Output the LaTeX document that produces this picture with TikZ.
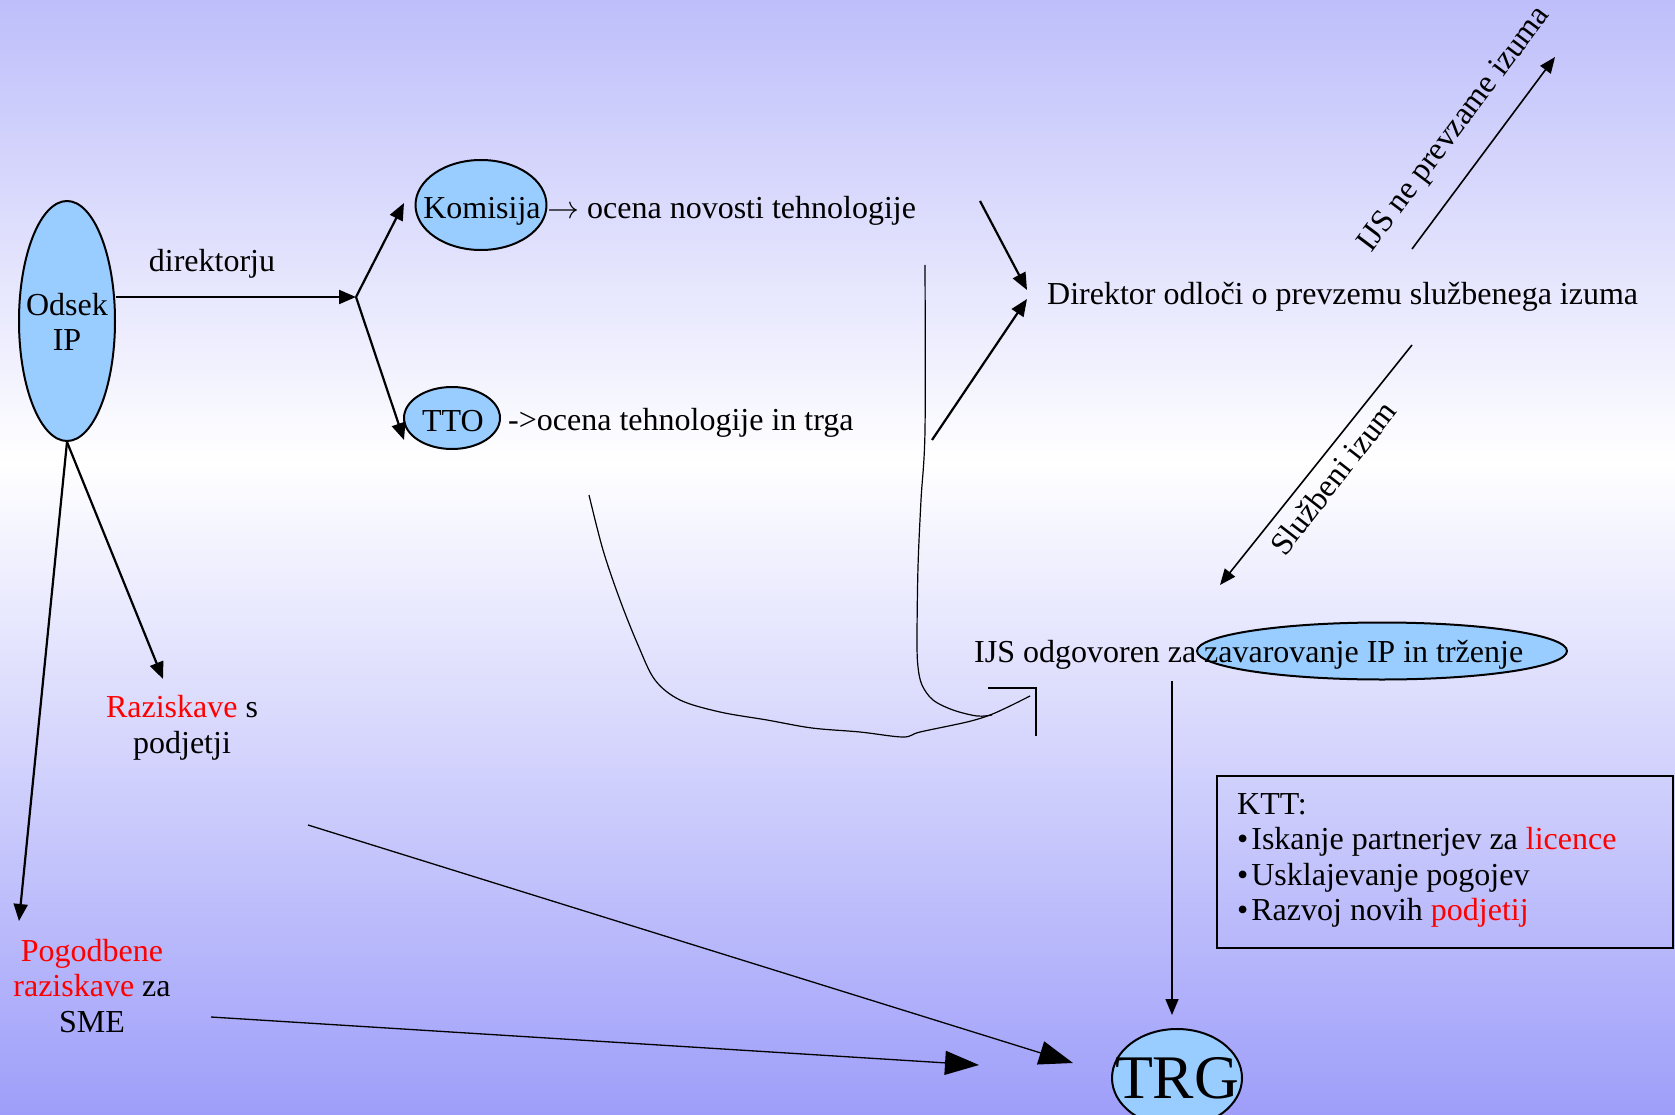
\RequirePackage{fix-cm}
\documentclass[tikz,border=0pt]{standalone}
\usepackage{fontspec}
\setmainfont{Liberation Serif}
\usetikzlibrary{shapes.geometric,arrows.meta}
\definecolor{bgtop}{RGB}{190,190,251}
\definecolor{bgbot}{RGB}{158,158,250}
\definecolor{ellfill}{RGB}{153,204,255}
\begin{document}
\begin{tikzpicture}[x=1pt,y=-1pt,
  ell/.style={ellipse, draw=black, line width=2pt, fill=ellfill, inner sep=0pt},
  txt/.style={font=\fontsize{32}{35.5}\selectfont, inner sep=0pt, align=center},
  arr/.style={line width=2.2pt, -{Triangle[length=17pt,width=14pt]}},
  thinarr/.style={line width=1.6pt, -{Triangle[length=16pt,width=13pt]}},
  thinline/.style={line width=1.2pt},
  bigarr/.style={line width=1.3pt, -{Triangle[length=34pt,width=24pt]}}]
\useasboundingbox (0,0) rectangle (1675,1115);
\shade[top color=bgtop, bottom color=white] (0,0) rectangle (1675,463);
\shade[top color=white, bottom color=bgbot] (0,462) rectangle (1675,1115);

% ellipses
\node[ell, minimum width=96pt, minimum height=240pt] (odsek) at (67,321) {};
\node[txt] (odsekt) at (67,322) {Odsek\\IP};
\node[ell, minimum width=131pt, minimum height=90pt] (kom) at (481,205) {};
\node[txt] (komt) at (482,211) {Komisija};
\node[ell, minimum width=96pt, minimum height=62pt] (tto) at (452,418) {};
\node[txt] (ttot) at (453,421) {TTO};
\node[ell, minimum width=370pt, minimum height=57pt] (zav) at (1382,651) {};
\node[ell, minimum width=130pt, minimum height=98pt] (trg) at (1177,1078) {};
\node[inner sep=0pt, font=\fontsize{62}{62}\selectfont] (trgt) at (trg.center) {TRG};

% texts
\node[txt] (dir) at (212,264) {direktorju};
\node[txt, anchor=base west] (ocn) at (547,219) {$\rightarrow$ ocena novosti tehnologije};
\node[txt, anchor=west] (oct) at (508,423) {->ocena tehnologije in trga};
\node[txt, anchor=base west] (direktor) at (1047,305) {Direktor odloči o prevzemu službenega izuma};
\node[txt, rotate=53] (nepre) at (1455,130) {IJS ne prevzame izuma};
\node[txt, rotate=52] (sluz) at (1333,478) {Službeni izum};
\node[txt, anchor=base west] (ijs) at (974,662) {IJS odgovoren za};
\node[txt, anchor=base west] (zavt) at (1204,662) {zavarovanje IP in trženje};
\node[txt] (raz) at (182,728) {{\color{red}Raziskave} s\\podjetji};
\node[txt] (pog) at (92,986) {{\color{red}Pogodbene}\\{\color{red}raziskave} za\\SME};

% KTT box
\node[draw=black, line width=2pt, minimum width=456pt, minimum height=172pt, inner sep=0pt] (ktt) at (1445,862) {};
\node[txt, anchor=base west] (k1) at (1237,814) {KTT:};
\node[txt, anchor=base west] (k2) at (1237,849.5) {•\kern3pt Iskanje partnerjev za {\color{red}licence}};
\node[txt, anchor=base west] (k3) at (1237,885) {•\kern3pt Usklajevanje pogojev};
\node[txt, anchor=base west] (k4) at (1237,920.5) {•\kern3pt Razvoj novih {\color{red}podjetij}};

% coordinates
\coordinate (junc) at (356,297);
\coordinate (komtip) at (404,203);
\coordinate (ttotip) at (404,440);
\coordinate (d1s) at (980,201);
\coordinate (d1t) at (1027,290);
\coordinate (d2s) at (932,440);
\coordinate (d2t) at (1027,299);
\coordinate (ns) at (1412,249);
\coordinate (nt) at (1555,57);
\coordinate (ss) at (1412,345);
\coordinate (st) at (1220,585);
\coordinate (ts) at (1172,681);
\coordinate (tt) at (1172,1015);
\coordinate (rt) at (163,679);
\coordinate (pt) at (19,921);
\coordinate (l1s) at (308,825);
\coordinate (l1t) at (1073,1063);
\coordinate (l2s) at (211,1017);
\coordinate (l2t) at (979,1065);

% connectors
\draw[arr] (odsek.east |- junc) -- (junc);
\draw[arr] (junc) -- (komtip);
\draw[arr] (junc) -- (ttotip);
\draw[arr] (d1s) -- (d1t);
\draw[arr] (d2s) -- (d2t);
\draw[thinarr] (ns) -- (nt);
\draw[thinarr] (ss) -- (st);
\draw[thinarr] (ts) -- (tt);
\draw[arr] (odsek.south) -- (rt);
\draw[arr] (odsek.south) -- (pt);
\draw[bigarr] (l1s) -- (l1t);
\draw[bigarr] (l2s) -- (l2t);

% freehand strokes
\draw[thinline] plot[smooth, tension=0.55] coordinates {(589,495) (603,550) (620,600) (638,645) (655,680) (680,700) (720,712) (767,720) (812,728) (860,732) (903,737) (920,732) (967,722) (990,715) (1010,706) (1030,696)};
\draw[thinline] plot[smooth, tension=0.55] coordinates {(925,265) (925,430) (921,500) (918,567) (917,640) (918,667) (922,685) (933,700) (953,710) (977,716) (992,715)};
\draw[line width=2pt] (988,688) -- (1036,688) -- (1036,736);
\end{tikzpicture}
\end{document}
